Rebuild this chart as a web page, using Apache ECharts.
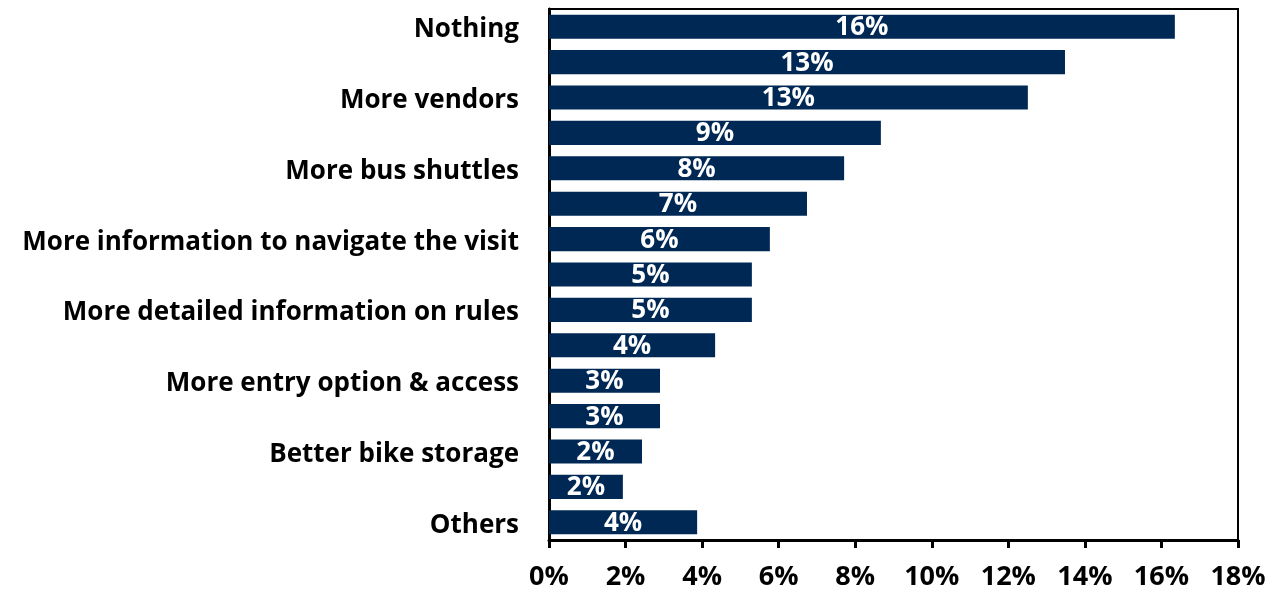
<!DOCTYPE html>
<html>
<head>
<meta charset="utf-8">
<script src="https://cdn.jsdelivr.net/npm/echarts@6/dist/echarts.min.js"></script>
<style>
  html, body { margin: 0; padding: 0; background: #fff; }
  #chart { width: 1282px; height: 598px; }
</style>
</head>
<body>
<div id="chart"></div>
<script>
// Categories listed top to bottom; unlabeled rows carry an empty name
const categories = [
  'Nothing', '', 'More vendors', '', 'More bus shuttles', '',
  'More information to navigate the visit', '', 'More detailed information on rules', '',
  'More entry option & access', '', 'Better bike storage', '', 'Others'
];
// Share of respondents, in percent
const shares = [16.35, 13.48, 12.51, 8.67, 7.71, 6.74, 5.77, 5.30, 5.30, 4.34, 2.90, 2.90, 2.43, 1.93, 3.87];
// Value axis range and step, in percent
const axisMin = 0;
const axisMax = 18;
const axisStep = 2;

const barColor = '#002855';
const fontFamily = '"Open Sans", "Noto Sans", sans-serif';

const chart = echarts.init(document.getElementById('chart'), null, { renderer: 'canvas' });
chart.setOption({
  animation: false,
  backgroundColor: '#ffffff',
  grid: {
    left: 549, right: 44, top: 9, bottom: 58,
    show: true, borderColor: '#000', borderWidth: 2, backgroundColor: 'transparent'
  },
  xAxis: {
    type: 'value',
    min: axisMin, max: axisMax, interval: axisStep,
    splitLine: { show: false },
    axisLine: { show: true, lineStyle: { color: '#000', width: 3 } },
    axisTick: { show: true, length: 8, lineStyle: { color: '#000', width: 3 } },
    axisLabel: {
      formatter: v => v + '%',
      color: '#000', fontFamily, fontWeight: 'bold', fontSize: 27, margin: 24
    }
  },
  yAxis: {
    type: 'category',
    data: categories,
    inverse: true,
    axisLine: { show: true, lineStyle: { color: '#000', width: 3 } },
    axisTick: { show: false },
    splitLine: { show: false },
    axisLabel: {
      interval: 0,
      margin: 30,
      formatter: v => (v ? '{c|' + v + '}' : ''),
      rich: {
        c: {
          padding: [6, 0, 0, 0],
          color: '#000', fontFamily, fontWeight: 'bold', fontSize: 26
        }
      }
    }
  },
  series: [{
    type: 'bar',
    data: shares,
    barCategoryGap: '32%',
    itemStyle: { color: barColor },
    label: {
      show: true,
      position: 'inside',
      offset: [0, 1],
      formatter: p => Math.round(p.value) + '%',
      color: '#fff', fontFamily, fontWeight: 'bold', fontSize: 26
    }
  }]
});
</script>
</body>
</html>
